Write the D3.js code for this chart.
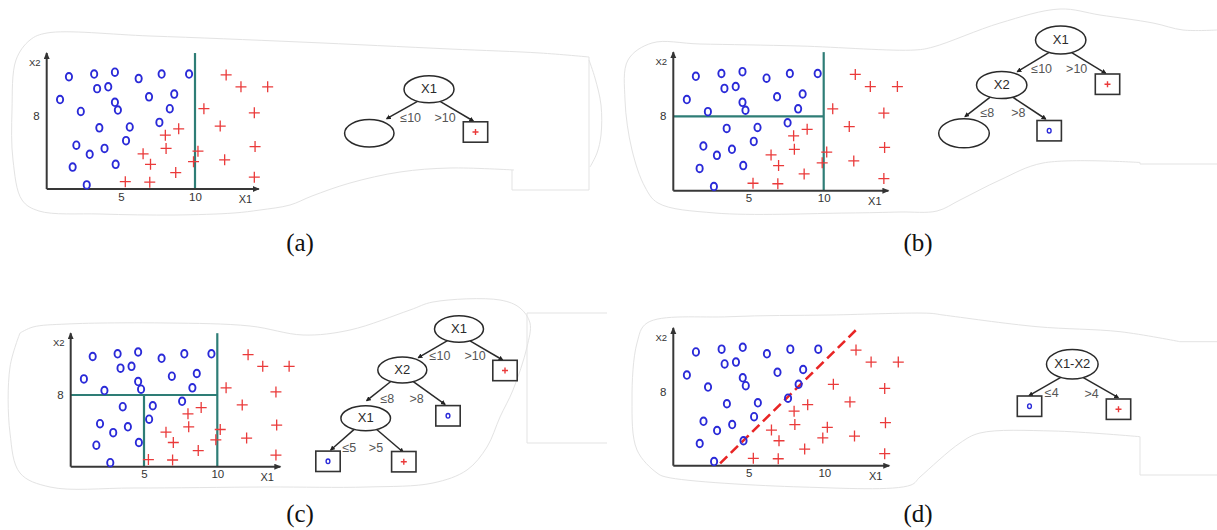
<!DOCTYPE html>
<html>
<head>
<meta charset="utf-8">
<script src="https://cdn.jsdelivr.net/npm/d3@7"></script>
<style>
  html, body { margin: 0; padding: 0; background: #fff; }
  svg { display: block; }
  text { font-family: "Liberation Sans", Arial, sans-serif; }
  text.caption { font-family: "Liberation Serif", "Times New Roman", serif; }
</style>
</head>
<body>
<svg id="fig" width="1217" height="530"></svg>
<script>
// ---------- training sample (X1, X2) ----------
const classO = [
  [1.5, 12.3], [3.2, 12.6], [4.6, 12.8], [6.2, 12.1], [7.75, 12.6], [9.6, 12.6],
  [3.4, 11.0], [4.15, 11.2], [0.9, 9.8], [4.6, 9.5], [4.8, 8.65], [6.9, 10.1],
  [8.6, 10.4], [2.3, 8.5], [8.3, 8.8], [3.55, 6.7], [5.6, 6.8], [7.6, 7.3],
  [2.0, 4.8], [5.35, 5.3], [2.9, 3.8], [3.9, 4.45], [1.75, 2.4], [4.65, 2.7], [2.7, 0.45]
];
const classPlus = [
  [12.1, 12.5], [13.1, 11.2], [14.9, 11.2], [10.6, 8.8], [14.0, 8.35], [8.9, 6.6],
  [11.7, 6.9], [8.0, 5.9], [8.05, 4.45], [10.2, 4.15], [14.05, 4.65], [6.5, 3.85],
  [7.0, 2.7], [9.9, 3.0], [12.0, 3.2], [8.7, 1.8], [5.3, 0.8], [6.95, 0.75], [14.0, 1.3]
];

// ---------- axes ----------
const x1Ticks = [5, 10];
const x2Ticks = [8];
const axisNames = ["X1", "X2"];
const x1AxisMax = 14.3;
const x2AxisMax = 14.9;

// ---------- partitions drawn in each scatter ----------
const splitsA = [{ dim: "X1", at: 10, lo: 0, hi: 14.9 }];
const splitsB = [{ dim: "X1", at: 10, lo: 0, hi: 14.9 }, { dim: "X2", at: 8, lo: 0, hi: 10 }];
const splitsC = [{ dim: "X1", at: 10, lo: 0, hi: 14.9 }, { dim: "X2", at: 8, lo: 0, hi: 10 },
                 { dim: "X1", at: 5, lo: 0, hi: 8 }];
const obliqueD = [[3.1, 0.25], [12.15, 14.75]];

// ---------- decision trees ----------
const treeANodes = [
  { id: "r", text: "X1", kind: "split" },
  { id: "l", text: "", kind: "split" },
  { id: "p", kind: "leaf", cls: "+" }
];
const treeAEdges = [
  { from: "r", to: "l", text: "\u226410" },
  { from: "r", to: "p", text: ">10" }
];
const treeBNodes = [
  { id: "r", text: "X1", kind: "split" },
  { id: "s", text: "X2", kind: "split" },
  { id: "p", kind: "leaf", cls: "+" },
  { id: "l", text: "", kind: "split" },
  { id: "o", kind: "leaf", cls: "o" }
];
const treeBEdges = [
  { from: "r", to: "s", text: "\u226410" },
  { from: "r", to: "p", text: ">10" },
  { from: "s", to: "l", text: "\u22648" },
  { from: "s", to: "o", text: ">8" }
];
const treeCNodes = [
  { id: "r", text: "X1", kind: "split" },
  { id: "s", text: "X2", kind: "split" },
  { id: "p", kind: "leaf", cls: "+" },
  { id: "t", text: "X1", kind: "split" },
  { id: "o", kind: "leaf", cls: "o" },
  { id: "o2", kind: "leaf", cls: "o" },
  { id: "p2", kind: "leaf", cls: "+" }
];
const treeCEdges = [
  { from: "r", to: "s", text: "\u226410" },
  { from: "r", to: "p", text: ">10" },
  { from: "s", to: "t", text: "\u22648" },
  { from: "s", to: "o", text: ">8" },
  { from: "t", to: "o2", text: "\u22645" },
  { from: "t", to: "p2", text: ">5" }
];
const treeDNodes = [
  { id: "r", text: "X1-X2", kind: "split" },
  { id: "o", kind: "leaf", cls: "o" },
  { id: "p", kind: "leaf", cls: "+" }
];
const treeDEdges = [
  { from: "r", to: "o", text: "\u22644" },
  { from: "r", to: "p", text: ">4" }
];

// ---------- layout ----------
const panelLayout = [
  { id: "a", ox: 46.7, oy: 189, sx: 14.83, sy: 9.125, cap: [300, 251], caption: "(a)",
    splits: splitsA, nodes: treeANodes, edges: treeAEdges },
  { id: "b", ox: 673.3, oy: 190.7, sx: 15.04, sy: 9.3, cap: [918, 251], caption: "(b)",
    splits: splitsB, nodes: treeBNodes, edges: treeBEdges },
  { id: "c", ox: 70.7, oy: 466.7, sx: 14.66, sy: 8.96, cap: [300, 522], caption: "(c)",
    splits: splitsC, nodes: treeCNodes, edges: treeCEdges },
  { id: "d", ox: 673.3, oy: 465.7, sx: 15.1, sy: 9.25, cap: [918, 522], caption: "(d)",
    splits: [], oblique: obliqueD, nodes: treeDNodes, edges: treeDEdges }
];

// node geometry: [cx, cy, rx, ry] for ellipses, [cx, cy] for leaf boxes;
// edge geometry keyed by child: arrow tip and label centre
const treeGeom = {
  a: {
    nodes: { r: [429, 89.3, 25, 13.5], l: [369.3, 133.3, 24.7, 13.7], p: [475.5, 132] },
    edges: { l: { end: [386.7, 118.7], label: [410.7, 118.3] },
             p: { end: [473.3, 121], label: [445, 118.3] } }
  },
  b: {
    nodes: { r: [1060.7, 40, 25.2, 14], s: [1001.7, 85, 25.2, 13.6], p: [1107.5, 84.2],
             l: [964, 133.3, 25.3, 14.5], o: [1049.2, 130.7] },
    edges: { s: { end: [1017.3, 71.7], label: [1041.7, 70] },
             p: { end: [1105.7, 73.3], label: [1076.7, 70] },
             l: { end: [965, 116.7], label: [987.3, 114] },
             o: { end: [1045.7, 119], label: [1018.3, 114] } }
  },
  c: {
    nodes: { r: [459, 329, 24.5, 13.2], s: [402.3, 370, 24.5, 13], p: [505, 370.5],
             t: [365.7, 418.3, 24.8, 12.5], o: [448, 415.8], o2: [328, 461.3], p2: [403.8, 461.7] },
    edges: { s: { end: [418.3, 357.7], label: [440, 356.7] },
             p: { end: [502.7, 360], label: [475, 356.7] },
             t: { end: [366.7, 400.7], label: [387.3, 400] },
             o: { end: [445, 404.3], label: [416.7, 400] },
             o2: { end: [330.7, 450], label: [349.3, 448.3] },
             p2: { end: [403.3, 452.3], label: [376, 448.3] } }
  },
  d: {
    nodes: { r: [1072.3, 364.3, 25.8, 14.7], o: [1029.5, 406.2], p: [1118.5, 409.2] },
    edges: { o: { end: [1029, 395.7], label: [1051.7, 393.3] },
             p: { end: [1118.3, 397.7], label: [1091.7, 394.3] } }
  }
};

// faint cut-out outlines behind each panel
const outlines = [
  { curve: [[514,170],[450,168],[400,172],[350,183],[312,196],[290,205],[260,210],[234,213],[175,215],[100,214],[39,211],[22,200],[13,160],[12,110],[16,60],[30,40],[47,33],[150,36],[300,42],[450,49],[540,53],[589,57]],
    straight: [[589,57],[589,190],[512,190],[512,170]],
    extra: [[589,60],[595,78],[601,105],[601,135],[597,153],[590,167]] },
  { curve: [[1140,162.5],[1043,163],[1000,180],[960,200],[937,211],[900,212],[848,213],[715,213],[658,203],[645,187],[632,150],[625,100],[628,60],[652,43],[700,44],[800,46],[915,50],[933,47],[1000,23],[1060,9],[1100,15],[1153,23],[1183,30],[1217,30]],
    straight: [[1217,164],[1140,164],[1140,162.5]] },
  { curve: [[20,333],[33,327],[67,324],[167,323],[250,326],[303,335],[350,330],[410,310],[433,302],[500,300],[520,308],[530,323],[527,347],[513,390],[500,417],[487,447],[467,470],[433,483],[367,487],[267,487],[133,488],[50,487],[20,473],[10,433],[10,367],[20,333]],
    straight: [[607,313],[527,313],[527,443],[607,443]] },
  { curve: [[1180,341.7],[1120,331.7],[1037,326.7],[943,315],[930,313.3],[830,315],[730,316.7],[647,323],[637,343],[632,400],[637,450],[657,473],[666,477],[802,487],[911,485],[920,477],[960,443],[980,433],[1053,431],[1140,436.7]],
    straight: [[1217,341.7],[1180,341.7]],
    extra2: [[1140,436.7],[1140,475],[1217,475]] }
];

// ---------- drawing ----------
const svg = d3.select("#fig");
const defs = svg.append("defs");
defs.append("marker")
  .attr("id", "axArrow").attr("markerUnits", "userSpaceOnUse")
  .attr("markerWidth", 8).attr("markerHeight", 8)
  .attr("refX", 6).attr("refY", 3).attr("orient", "auto")
  .append("path").attr("d", "M0,0L7,3L0,6Z").attr("fill", "#333");
defs.append("marker")
  .attr("id", "edgeTip").attr("markerUnits", "userSpaceOnUse")
  .attr("markerWidth", 6).attr("markerHeight", 6)
  .attr("refX", 4).attr("refY", 2.5).attr("orient", "auto")
  .append("path").attr("d", "M0,0L5,2.5L0,5Z").attr("fill", "#222");

// outlines
const curveLine = d3.line().curve(d3.curveCatmullRom.alpha(0.5));
const flatLine = d3.line();
const outlineG = svg.append("g").attr("fill", "none").attr("stroke", "#e3e3e3").attr("stroke-width", 1);
outlines.forEach(o => {
  outlineG.append("path").attr("d", curveLine(o.curve));
  outlineG.append("path").attr("d", flatLine(o.straight));
  if (o.extra) outlineG.append("path").attr("d", curveLine(o.extra));
  if (o.extra2) outlineG.append("path").attr("d", flatLine(o.extra2));
});

const teal = "#2e7d76";
const blue = "#2a2ad8";
const red = "#ea3a3a";
const axisCol = "#383838";

panelLayout.forEach(P => {
  const g = svg.append("g").attr("class", "panel-" + P.id);
  const x = d3.scaleLinear().domain([0, 10]).range([P.ox, P.ox + 10 * P.sx]);
  const y = d3.scaleLinear().domain([0, 8]).range([P.oy, P.oy - 8 * P.sy]);

  // partition lines
  P.splits.forEach(s => {
    const seg = s.dim === "X1"
      ? [[x(s.at), y(s.lo)], [x(s.at), y(s.hi)]]
      : [[x(s.lo), y(s.at)], [x(s.hi), y(s.at)]];
    g.append("line")
      .attr("x1", seg[0][0]).attr("y1", seg[0][1])
      .attr("x2", seg[1][0]).attr("y2", seg[1][1])
      .attr("stroke", teal).attr("stroke-width", 2.2);
  });

  // axes with arrowheads
  g.append("line")
    .attr("x1", x(0)).attr("y1", y(0)).attr("x2", x(x1AxisMax)).attr("y2", y(0))
    .attr("stroke", axisCol).attr("stroke-width", 2).attr("marker-end", "url(#axArrow)");
  g.append("line")
    .attr("x1", x(0)).attr("y1", y(0)).attr("x2", x(0)).attr("y2", y(x2AxisMax))
    .attr("stroke", axisCol).attr("stroke-width", 2).attr("marker-end", "url(#axArrow)");

  const xa = g.append("g").attr("transform", `translate(0,${y(0)})`)
    .call(d3.axisBottom(x).tickValues(x1Ticks).tickSize(0).tickPadding(3.5).tickFormat(d3.format("d")));
  const ya = g.append("g").attr("transform", `translate(${x(0)},0)`)
    .call(d3.axisLeft(y).tickValues(x2Ticks).tickSize(0).tickPadding(7).tickFormat(d3.format("d")));
  [xa, ya].forEach(a => {
    a.select(".domain").remove();
    a.selectAll("text").attr("font-size", 11.5).style("fill", "#333");
  });

  g.append("text").attr("x", x(13.4)).attr("y", y(0) + 11.5)
    .attr("text-anchor", "middle").attr("dominant-baseline", "middle")
    .attr("font-size", 11).attr("fill", "#333").text(axisNames[0]);
  g.append("text").attr("x", x(0) - 12).attr("y", y(13.8))
    .attr("text-anchor", "middle").attr("dominant-baseline", "middle")
    .attr("font-size", 9.5).attr("fill", "#333").text(axisNames[1]);

  // oblique split
  if (P.oblique) {
    g.append("line")
      .attr("x1", x(P.oblique[0][0])).attr("y1", y(P.oblique[0][1]))
      .attr("x2", x(P.oblique[1][0])).attr("y2", y(P.oblique[1][1]))
      .attr("stroke", "#e82525").attr("stroke-width", 2.6)
      .attr("stroke-dasharray", "10,5");
  }

  // sample points
  g.append("g").selectAll("ellipse").data(classO).join("ellipse")
    .attr("cx", d => x(d[0])).attr("cy", d => y(d[1]))
    .attr("rx", 3.1).attr("ry", 3.8)
    .attr("fill", "none").attr("stroke", blue).attr("stroke-width", 1.9);
  g.append("g").selectAll("path").data(classPlus).join("path")
    .attr("transform", d => `translate(${x(d[0])},${y(d[1])})`)
    .attr("d", "M-5.5,0H5.5M0,-5.5V5.5")
    .attr("fill", "none").attr("stroke", red).attr("stroke-width", 1.3);

  // tree
  const geom = treeGeom[P.id];
  const tg = svg.append("g").attr("class", "tree-" + P.id);
  P.edges.forEach(e => {
    const p = geom.nodes[e.from];
    const eg = geom.edges[e.to];
    const dx = eg.end[0] < p[0] ? -11.5 : 11;
    const sy0 = p[1] + p[3] * Math.sqrt(1 - (dx / p[2]) ** 2);
    tg.append("line")
      .attr("x1", p[0] + dx).attr("y1", sy0)
      .attr("x2", eg.end[0]).attr("y2", eg.end[1])
      .attr("stroke", "#2a2a2a").attr("stroke-width", 1.5)
      .attr("marker-end", "url(#edgeTip)");
    tg.append("text").attr("x", eg.label[0]).attr("y", eg.label[1])
      .attr("text-anchor", "middle").attr("dominant-baseline", "middle")
      .attr("font-size", 12.5).attr("fill", "#555").text(e.text);
  });
  P.nodes.forEach(n => {
    const p = geom.nodes[n.id];
    if (n.kind === "split") {
      tg.append("ellipse").attr("cx", p[0]).attr("cy", p[1]).attr("rx", p[2]).attr("ry", p[3])
        .attr("fill", "#fff").attr("stroke", "#2a2a2a").attr("stroke-width", 1.5);
      if (n.text) {
        tg.append("text").attr("x", p[0]).attr("y", p[1] + 0.5)
          .attr("text-anchor", "middle").attr("dominant-baseline", "middle")
          .attr("font-size", 13).attr("fill", "#2a2a2a").text(n.text);
      }
    } else {
      tg.append("rect").attr("x", p[0] - 12.2).attr("y", p[1] - 10.2)
        .attr("width", 24.4).attr("height", 20.4)
        .attr("fill", "#fff").attr("stroke", "#333").attr("stroke-width", 1.6);
      if (n.cls === "+") {
        tg.append("path").attr("transform", `translate(${p[0]},${p[1]})`)
          .attr("d", "M-3,0H3M0,-3V3").attr("stroke", red).attr("stroke-width", 1.4);
      } else {
        tg.append("ellipse").attr("cx", p[0]).attr("cy", p[1]).attr("rx", 1.9).attr("ry", 2.3)
          .attr("fill", "none").attr("stroke", blue).attr("stroke-width", 1.4);
      }
    }
  });

  // caption
  svg.append("text").attr("class", "caption").attr("x", P.cap[0]).attr("y", P.cap[1])
    .attr("text-anchor", "middle").attr("font-size", 25)
    .attr("fill", "#111").text(P.caption);
});
</script>
</body>
</html>
